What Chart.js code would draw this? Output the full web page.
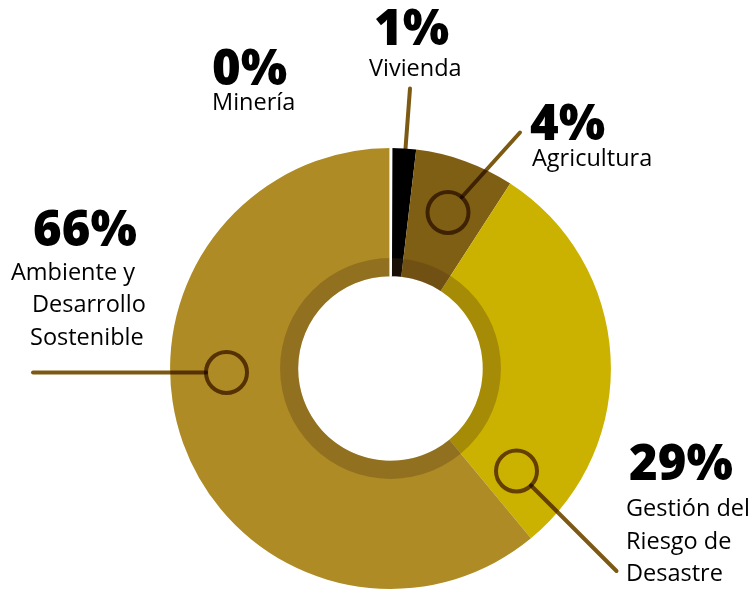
<!DOCTYPE html>
<html>
<head>
<meta charset="utf-8">
<script src="https://cdn.jsdelivr.net/npm/chart.js@4"></script>
<style>
  html, body { margin: 0; padding: 0; background: #ffffff; }
  #wrap { position: relative; width: 756px; height: 590px; }
</style>
</head>
<body>
<div id="wrap"><canvas id="c" width="756" height="590"></canvas></div>
<script>
// ---- data ----
const categories = ['Minería', 'Vivienda', 'Agricultura', 'Gestión del Riesgo de Desastre', 'Ambiente y Desarrollo Sostenible'];
const percentLabels = ['0%', '1%', '4%', '29%', '66%'];
// slice sizes as drawn in the picture (share of the full circle, %)
const sliceValues = [0.06, 1.8, 7.28, 29.86, 60.99];
const nameLines = [
  ['Minería'],
  ['Vivienda'],
  ['Agricultura'],
  ['Gestión del', 'Riesgo de', 'Desastre'],
  ['Ambiente y', 'Desarrollo', 'Sostenible']
];

// ---- styles / layout ----
const sliceColors = ['#ffffff', '#000000', '#7F5F14', '#CCB200', '#AE8B24'];
const labelLayout = [
  { px: 212, py: 85, nx: 212, ny: [110] },
  { px: 374, py: 45, nx: 369, ny: [76] },
  { px: 530, py: 140, nx: 532, ny: [166] },
  { px: 629, py: 480, nx: 626, ny: [516, 549, 581] },
  { px: 33, py: 246, nx: [11, 32, 30], ny: [280, 312, 345] }
];
// leader decorations relative to the doughnut centre: circle centre, far end
const leaders = [
  { circle: null, from: [13.5, -200], to: [19.5, -280] },
  { circle: [57.5, -156], to: [129.5, -236] },
  { circle: [126, 102.5], to: [226, 202.5] },
  { circle: [-164, 4], to: [-357.5, 4] }
];

const overlayPlugin = {
  id: 'overlay',
  afterDatasetsDraw(chart) {
    const ctx = chart.ctx;
    const meta = chart.getDatasetMeta(0);
    const arc = meta.data[0];
    const cx = arc.x, cy = arc.y;
    const ir = arc.innerRadius, or = arc.outerRadius;
    // darker band around the hole
    ctx.save();
    ctx.beginPath();
    ctx.arc(cx, cy, ir + or * 0.082, 0, Math.PI * 2);
    ctx.arc(cx, cy, ir, 0, Math.PI * 2, true);
    ctx.closePath();
    ctx.fillStyle = 'rgba(80,50,20,0.30)';
    ctx.fill();
    ctx.restore();
    // bring the white "Minería" sliver (with its border) to the front
    meta.data[0].draw(ctx);

    // leaders
    ctx.save();
    ctx.globalCompositeOperation = 'multiply';
    ctx.strokeStyle = '#7D5A14';
    ctx.lineWidth = 4;
    ctx.lineCap = 'round';
    const cr = 20.5;
    leaders.forEach(l => {
      let sx, sy;
      const ex = cx + l.to[0], ey = cy + l.to[1];
      if (l.circle) {
        const ccx = cx + l.circle[0], ccy = cy + l.circle[1];
        const dx = ex - ccx, dy = ey - ccy, d = Math.hypot(dx, dy);
        sx = ccx + cr * dx / d; sy = ccy + cr * dy / d;
        ctx.beginPath();
        ctx.arc(ccx, ccy, cr, 0, Math.PI * 2);
        ctx.stroke();
      } else {
        sx = cx + l.from[0]; sy = cy + l.from[1];
      }
      ctx.beginPath();
      ctx.moveTo(sx, sy);
      ctx.lineTo(ex, ey);
      ctx.stroke();
    });
    ctx.restore();

    // labels
    ctx.save();
    ctx.fillStyle = '#000000';
    ctx.textBaseline = 'alphabetic';
    ctx.textAlign = 'left';
    percentLabels.forEach((p, i) => {
      const L = labelLayout[i];
      ctx.font = "800 49px 'Open Sans'";
      ctx.fillText(p, L.px, L.py);
      ctx.font = "400 23.5px 'Open Sans'";
      nameLines[i].forEach((t, j) => {
        const x = Array.isArray(L.nx) ? L.nx[j] : L.nx;
        ctx.fillText(t, x, L.ny[j]);
      });
    });
    ctx.restore();
  }
};

new Chart(document.getElementById('c'), {
  type: 'doughnut',
  data: {
    labels: categories,
    datasets: [{
      data: sliceValues,
      backgroundColor: sliceColors,
      borderWidth: [2.2, 0, 0, 0, 0],
      borderColor: '#ffffff',
      borderAlign: 'center',
      hoverOffset: 0
    }]
  },
  options: {
    responsive: false,
    animation: false,
    events: [],
    cutout: '41.9%',
    rotation: 0,
    layout: { padding: { left: 168, right: 143, top: 147, bottom: -2 } },
    plugins: { legend: { display: false }, tooltip: { enabled: false } }
  },
  plugins: [overlayPlugin]
});
</script>
</body>
</html>
